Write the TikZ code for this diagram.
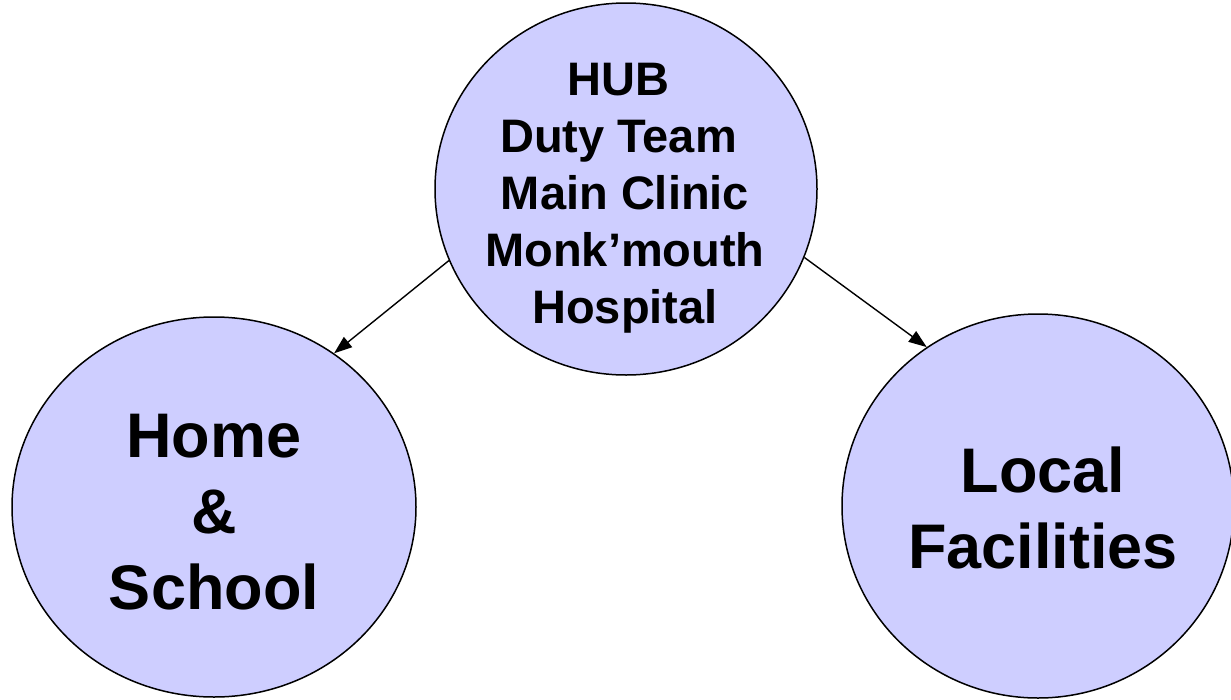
\documentclass[tikz,border=0pt]{standalone}
\usepackage{fontspec}
\setmainfont{Liberation Sans}
\usetikzlibrary{shapes.geometric,arrows.meta}
\definecolor{bubble}{RGB}{206,206,255}
\tikzset{
  bubble/.style={ellipse,draw=black,line width=1.5pt,fill=bubble,inner sep=0pt},
  smalltxt/.style={align=center,font=\bfseries\fontsize{47}{57}\selectfont,inner sep=0pt},
  bigtxt/.style={align=center,font=\bfseries\fontsize{63}{76}\selectfont,inner sep=0pt},
  arr/.style={line width=1.4pt,-{Triangle[length=18pt,width=13pt]}}
}
\begin{document}
\begin{tikzpicture}[x=1pt,y=-1pt]
\useasboundingbox (0,0) rectangle (1231,699);
\clip (0,0) rectangle (1231,699);
\node[bubble,minimum width=382pt,minimum height=372pt] (hub) at (626,189) {};
\node[bubble,minimum width=404pt,minimum height=380pt] (home) at (214,507) {};
\node[bubble,minimum width=392pt,minimum height=384pt] (local) at (1038,506) {};
\node[smalltxt] (hubtext) at (625,198) {HUB\kern0.278em\\Duty Team\kern0.278em\\Main Clinic\\Monk’mouth\\Hospital};
\node[bigtxt] (hometext) at (214,512) {Home\\\&\\School};
\node[bigtxt] (localtext) at (1043,508) {Local\\Facilities};
\draw[arr] (hub.202) -- (home.52);
\draw[arr] (hub.339) -- (local.125);
\end{tikzpicture}
\end{document}
